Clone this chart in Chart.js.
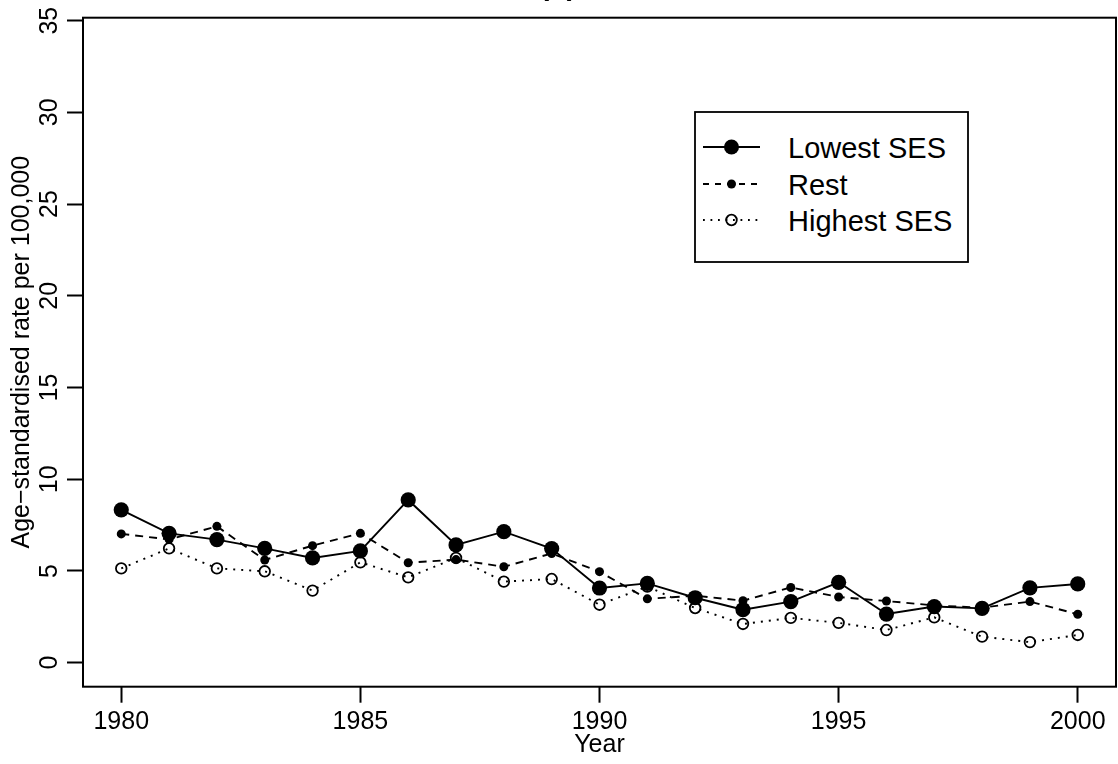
<!DOCTYPE html>
<html>
<head>
<meta charset="utf-8">
<script src="https://cdn.jsdelivr.net/npm/chart.js@4.4.1/dist/chart.umd.min.js"></script>
<style>
  html, body { margin: 0; padding: 0; background: #fff; }
  #wrap { position: relative; width: 1118px; height: 764px; overflow: hidden; background: #fff; }
  #chart { position: absolute; left: 0; top: -31px; }
  #legend { position: absolute; left: 0; top: 0; font-family: "Liberation Sans", Arial, sans-serif; }
</style>
</head>
<body>
<div id="wrap">
  <canvas id="chart" width="1118" height="795"></canvas>
  <svg id="legend" width="1118" height="764">
    <rect x="695" y="112" width="273" height="150" fill="#fff" stroke="#000" stroke-width="1.8"/>
    <line x1="703" y1="147" x2="760" y2="147" stroke="#000" stroke-width="1.8"/>
    <circle cx="731.5" cy="147" r="7.5" fill="#000"/>
    <line x1="703" y1="184" x2="760" y2="184" stroke="#000" stroke-width="1.8" stroke-dasharray="6 6"/>
    <circle cx="731.5" cy="184" r="4.5" fill="#000"/>
    <line x1="703" y1="220" x2="760" y2="220" stroke="#000" stroke-width="1.8" stroke-dasharray="1.8 5.7"/>
    <circle cx="731.5" cy="220" r="5.3" fill="none" stroke="#000" stroke-width="1.8"/>
    <text x="788" y="158" font-size="29" fill="#000">Lowest SES</text>
    <text x="788" y="195" font-size="29" fill="#000">Rest</text>
    <text x="788" y="231" font-size="29" fill="#000">Highest SES</text>
  </svg>
</div>
<script>
// values
const years = [1980, 1981, 1982, 1983, 1984, 1985, 1986, 1987, 1988, 1989, 1990,
               1991, 1992, 1993, 1994, 1995, 1996, 1997, 1998, 1999, 2000];
const lowestSES  = [8.33, 7.05, 6.71, 6.23, 5.71, 6.09, 8.87, 6.42, 7.14, 6.22, 4.07,
                    4.32, 3.54, 2.89, 3.33, 4.38, 2.65, 3.06, 2.96, 4.08, 4.29];
const restSES    = [7.02, 6.72, 7.43, 5.60, 6.38, 7.05, 5.45, 5.62, 5.23, 5.95, 4.96,
                    3.48, 3.65, 3.38, 4.10, 3.58, 3.36, 3.12, 3.00, 3.33, 2.64];
const highestSES = [5.14, 6.23, 5.14, 4.98, 3.93, 5.47, 4.65, 5.71, 4.42, 4.56, 3.16,
                    4.15, 2.98, 2.11, 2.44, 2.17, 1.78, 2.47, 1.42, 1.12, 1.51];
const xTicks = [1980, 1985, 1990, 1995, 2000];
const yTicks = [0, 5, 10, 15, 20, 25, 30, 35];

Chart.defaults.font.family = '"Liberation Sans", Arial, sans-serif';
Chart.defaults.color = '#000';

function toPoints(vals) {
    return years.map((yr, i) => ({ x: yr, y: vals[i] }));
}

// full frame round the plot region
const boxPlugin = {
    id: 'box',
    afterDraw(chart) {
        const { ctx, chartArea: a } = chart;
        ctx.save();
        ctx.strokeStyle = '#000';
        ctx.lineWidth = 2;
        ctx.strokeRect(a.left, a.top, a.right - a.left, a.bottom - a.top);
        ctx.restore();
    }
};

const tickGrid = {
    display: true,
    drawOnChartArea: false,
    drawTicks: true,
    tickLength: 16,
    tickWidth: 2,
    tickColor: '#000'
};

new Chart(document.getElementById('chart').getContext('2d'), {
    type: 'line',
    data: {
        datasets: [
            {
                label: 'Lowest SES',
                data: toPoints(lowestSES),
                borderColor: '#000',
                borderWidth: 1.9,
                pointRadius: 7.6,
                pointBorderWidth: 0,
                pointBackgroundColor: '#000'
            },
            {
                label: 'Rest',
                data: toPoints(restSES),
                borderColor: '#000',
                borderWidth: 1.9,
                borderDash: [8, 6],
                pointRadius: 4.5,
                pointBorderWidth: 0,
                pointBackgroundColor: '#000'
            },
            {
                label: 'Highest SES',
                data: toPoints(highestSES),
                borderColor: '#000',
                borderWidth: 1.9,
                borderDash: [2, 6],
                pointRadius: 5.3,
                pointBorderWidth: 1.8,
                pointBorderColor: '#000',
                pointBackgroundColor: 'rgba(0,0,0,0)'
            }
        ]
    },
    options: {
        responsive: false,
        animation: false,
        devicePixelRatio: 1,
        layout: { autoPadding: false, padding: { left: 0, right: 2, top: 0, bottom: 0 } },
        plugins: {
            legend: { display: false },
            tooltip: { enabled: false },
            title: {
                display: true,
                text: '(b)',
                color: '#000',
                font: { size: 29, weight: 'bold', lineHeight: 1.2 },
                padding: { top: 0.5, bottom: 13.4 }
            }
        },
        scales: {
            x: {
                type: 'linear',
                min: 1979.2,
                max: 2000.8,
                afterBuildTicks: s => { s.ticks = xTicks.map(v => ({ value: v })); },
                afterFit: s => { s.height = 77.3; s.paddingLeft = 0; s.paddingRight = 0; },
                border: { display: false },
                grid: tickGrid,
                ticks: {
                    autoSkip: false,
                    maxRotation: 0,
                    padding: 4,
                    color: '#000',
                    font: { size: 25 },
                    callback: v => String(v)
                },
                title: {
                    display: true,
                    text: 'Year',
                    color: '#000',
                    font: { size: 25 },
                    padding: { top: 0, bottom: 4 }
                }
            },
            y: {
                type: 'linear',
                min: -1.31,
                max: 35.16,
                afterBuildTicks: s => { s.ticks = yTicks.map(v => ({ value: v })); },
                afterFit: s => { s.width = 83; },
                border: { display: false },
                grid: tickGrid,
                ticks: {
                    autoSkip: false,
                    minRotation: 90,
                    maxRotation: 90,
                    crossAlign: 'center',
                    padding: 3,
                    color: '#000',
                    font: { size: 25 },
                    callback: v => String(v)
                },
                title: {
                    display: true,
                    text: 'Age−standardised rate per 100,000',
                    color: '#000',
                    font: { size: 25 },
                    padding: { top: 7.2, bottom: 0 }
                }
            }
        }
    },
    plugins: [boxPlugin]
});
</script>
</body>
</html>
